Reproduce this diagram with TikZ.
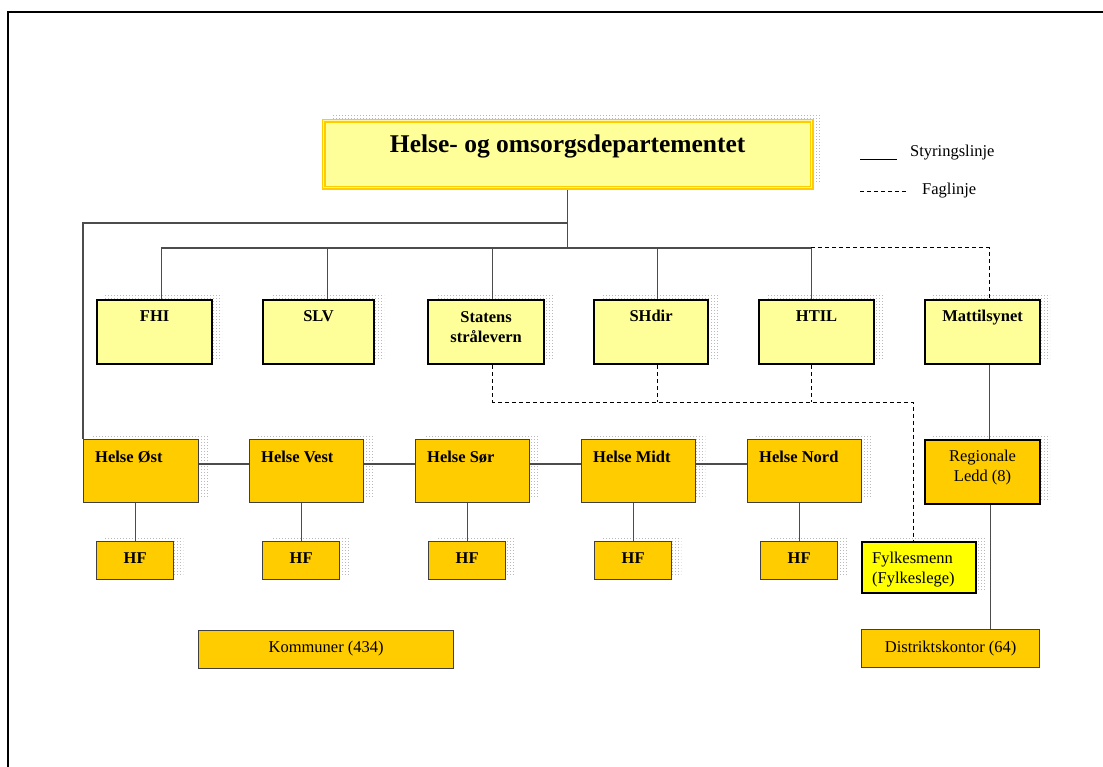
\documentclass[tikz,border=0pt]{standalone}
\usepackage{fontspec}
\setmainfont{Liberation Serif}
\usetikzlibrary{patterns,backgrounds,calc}
\pgfdeclarepatternformonly{mydots}{\pgfqpoint{0pt}{0pt}}{\pgfqpoint{1.2pt}{1.2pt}}{\pgfqpoint{3pt}{3pt}}{\pgfpathrectangle{\pgfqpoint{0pt}{0pt}}{\pgfqpoint{1.2pt}{1.2pt}}\pgfusepath{fill}}
\definecolor{lyel}{HTML}{FFFF99}
\definecolor{orng}{HTML}{FFCC00}
\definecolor{yel}{HTML}{FFFF00}
\definecolor{gold}{HTML}{FFCC00}
\definecolor{paleyel}{HTML}{FFF3A0}
\begin{document}
\begin{tikzpicture}[x=1pt,y=-1pt,
  bx/.style={rectangle, inner sep=0pt, anchor=north west},
  boxa/.style={bx, fill=lyel, draw=black, line width=2.2pt},
  boxb/.style={bx, fill=orng, draw=black!75, line width=1.3pt},
  boxc/.style={bx, fill=orng, draw=black, line width=2.2pt},
  boxf/.style={bx, fill=yel, draw=black, line width=2.2pt},
  titlebox/.style={bx, fill=lyel, draw=gold, line width=1.4pt, double=paleyel, double distance=1.2pt},
  tb/.style={font=\fontsize{16.5}{20}\selectfont\bfseries, inner sep=0pt},
  tn/.style={font=\fontsize{16.5}{20}\selectfont, inner sep=0pt},
  sl/.style={draw=black!70, line width=1.2pt},
  dl/.style={draw=black, line width=1pt, dash pattern=on 4pt off 3pt},
  shade/.style={pattern=mydots, pattern color=gray!55}
]
\useasboundingbox (0,0) rectangle (1103,767);
\draw[line width=2.2pt] (1103,12) -- (8,12) -- (8,767);

% title
\node[titlebox, minimum width=488pt, minimum height=67pt] (title) at (323,120) {};
\node[font=\fontsize{25.5}{30}\selectfont\bfseries, inner sep=0pt, anchor=base] (ttitle) at ($(title.north)+(0,33)$) {Helse- og omsorgsdepartementet};

% legend
\coordinate (la) at (860,160);
\coordinate (lb) at (897,160);
\coordinate (lc) at (860,192);
\coordinate (ld) at (908,192);
\draw[black, line width=1pt] (la) -- (lb);
\draw[black, line width=1pt, dash pattern=on 4pt off 3pt] (lc) -- (ld);
\node[tn, anchor=base west] (lstyr) at (910,157) {Styringslinje};
\node[tn, anchor=base west] (lfag) at (922,195) {Faglinje};

% row 1
\node[boxa, minimum width=115pt, minimum height=64pt] (fhi) at (96,299) {};
\node[boxa, minimum width=111pt, minimum height=64pt] (slv) at (262,299) {};
\node[boxa, minimum width=116pt, minimum height=64pt] (stat) at (427,299) {};
\node[boxa, minimum width=114pt, minimum height=64pt] (shdir) at (593,299) {};
\node[boxa, minimum width=115pt, minimum height=64pt] (htil) at (758,299) {};
\node[boxa, minimum width=115pt, minimum height=64pt] (matt) at (924,299) {};
\node[tb, anchor=base] (tfhi) at ($(fhi.north)+(0,23)$) {FHI};
\node[tb, anchor=base] (tslv) at ($(slv.north)+(0,23)$) {SLV};
\node[tb, align=center] (tstat) at ($(stat.north)+(0,28)$) {Statens\\strålevern};
\node[tb, anchor=base] (tshdir) at ($(shdir.north)+(0,23)$) {SHdir};
\node[tb, anchor=base] (thtil) at ($(htil.north)+(0,23)$) {HTIL};
\node[tb, anchor=base] (tmatt) at ($(matt.north)+(0,23)$) {Mattilsynet};

% row 2
\node[boxb, minimum width=115pt, minimum height=63pt] (oest) at (83,439) {};
\node[boxb, minimum width=114pt, minimum height=63pt] (vest) at (249,439) {};
\node[boxb, minimum width=114pt, minimum height=63pt] (soer) at (415,439) {};
\node[boxb, minimum width=114pt, minimum height=63pt] (midt) at (581,439) {};
\node[boxb, minimum width=114pt, minimum height=63pt] (nord) at (747,439) {};
\node[tb, anchor=base west] (toest) at ($(oest.north west)+(12,23)$) {Helse Øst};
\node[tb, anchor=base west] (tvest) at ($(vest.north west)+(12,23)$) {Helse Vest};
\node[tb, anchor=base west] (tsoer) at ($(soer.north west)+(12,23)$) {Helse Sør};
\node[tb, anchor=base west] (tmidt) at ($(midt.north west)+(12,23)$) {Helse Midt};
\node[tb, anchor=base west] (tnord) at ($(nord.north west)+(12,23)$) {Helse Nord};

% HF
\node[boxb, minimum width=77pt, minimum height=38pt] (hfa) at (96,541) {};
\node[boxb, minimum width=77pt, minimum height=38pt] (hfb) at (262,541) {};
\node[boxb, minimum width=77pt, minimum height=38pt] (hfc) at (428,541) {};
\node[boxb, minimum width=77pt, minimum height=38pt] (hfd) at (594,541) {};
\node[boxb, minimum width=77pt, minimum height=38pt] (hfe) at (760,541) {};
\foreach \h in {hfa,hfb,hfc,hfd,hfe}
  \node[tb, anchor=base] (t\h) at ($(\h.north)+(0,22)$) {HF};

% others
\node[boxb, minimum width=255pt, minimum height=38pt] (komm) at (198,630) {};
\node[tn, anchor=base] (tkomm) at ($(komm.north)+(0,22.5)$) {Kommuner (434)};
\node[boxb, minimum width=178pt, minimum height=38pt] (dist) at (861,629) {};
\node[tn, anchor=base] (tdist) at ($(dist.north)+(0,23.5)$) {Distriktskontor (64)};
\node[boxf, minimum width=114pt, minimum height=51pt] (fylk) at (861,541) {};
\node[tn, align=left, anchor=west] (tfylk) at ($(fylk.north west)+(11,29)$) {Fylkesmenn\\(Fylkeslege)};
\node[boxc, minimum width=115pt, minimum height=64pt] (reg) at (924,439) {};
\node[tn, align=center] (treg) at ($(reg.north)+(0,29)$) {Regionale\\Ledd (8)};

% shadows
\begin{scope}[on background layer]
\fill[white] (0,0) rectangle (1103,767);
\foreach \n in {title,fhi,slv,stat,shdir,htil,matt,oest,vest,soer,midt,nord,hfa,hfb,hfc,hfd,hfe,fylk,reg}
  \fill[shade] ([shift={(9,-5)}]\n.south west) rectangle ([shift={(9,-5)}]\n.north east);
\end{scope}

% connectors
\coordinate (busy) at (0,248);
\coordinate (sidey) at (0,223);
\coordinate (dashy) at (0,402);
\coordinate (hy) at (0,464);
\coordinate (pfhi) at ($(fhi.north)+(6.5,0)$);
\coordinate (pslv) at ($(slv.north)+(8.5,0)$);
\coordinate (pstat) at ($(stat.north)+(6.5,0)$);
\coordinate (pshdir) at ($(shdir.north)+(6.5,0)$);
\coordinate (phtil) at ($(htil.north)+(-5.5,0)$);
\coordinate (pmatt) at ($(matt.north)+(6.5,0)$);
\coordinate (bstat) at ($(stat.south)+(6.5,0)$);
\coordinate (bshdir) at ($(shdir.south)+(6.5,0)$);
\coordinate (bhtil) at ($(htil.south)+(-5.5,0)$);
\coordinate (bmatt) at ($(matt.south)+(6.5,0)$);
\coordinate (pfylk) at ($(fylk.north)+(-6,0)$);
\coordinate (breg) at ($(reg.south)+(7.5,0)$);

\begin{scope}[on background layer]
\draw[sl] (title.south) -- (title.south |- busy);
\draw[sl] (title.south |- sidey) -| (oest.north west);
\draw[sl] (pfhi |- busy) -- (phtil |- busy);
\foreach \p in {pfhi,pslv,pstat,pshdir,phtil}
  \draw[sl] (\p) -- (\p |- busy);
\draw[dl] (phtil |- busy) -| (pmatt);
\draw[dl] (bstat) |- (pfylk |- dashy) -- (pfylk);
\draw[dl] (bshdir) -- (bshdir |- dashy);
\draw[dl] (bhtil) -- (bhtil |- dashy);
\draw[sl] (bmatt) -- (bmatt |- reg.north);
\draw[sl] (breg) -- (breg |- dist.north);
\draw[sl] (oest.east |- hy) -- (vest.west |- hy);
\draw[sl] (vest.east |- hy) -- (soer.west |- hy);
\draw[sl] (soer.east |- hy) -- (midt.west |- hy);
\draw[sl] (midt.east |- hy) -- (nord.west |- hy);
\draw[sl] (hfa.north) -- (hfa.north |- oest.south);
\draw[sl] (hfb.north) -- (hfb.north |- vest.south);
\draw[sl] (hfc.north) -- (hfc.north |- soer.south);
\draw[sl] (hfd.north) -- (hfd.north |- midt.south);
\draw[sl] (hfe.north) -- (hfe.north |- nord.south);
\end{scope}
\end{tikzpicture}
\end{document}
